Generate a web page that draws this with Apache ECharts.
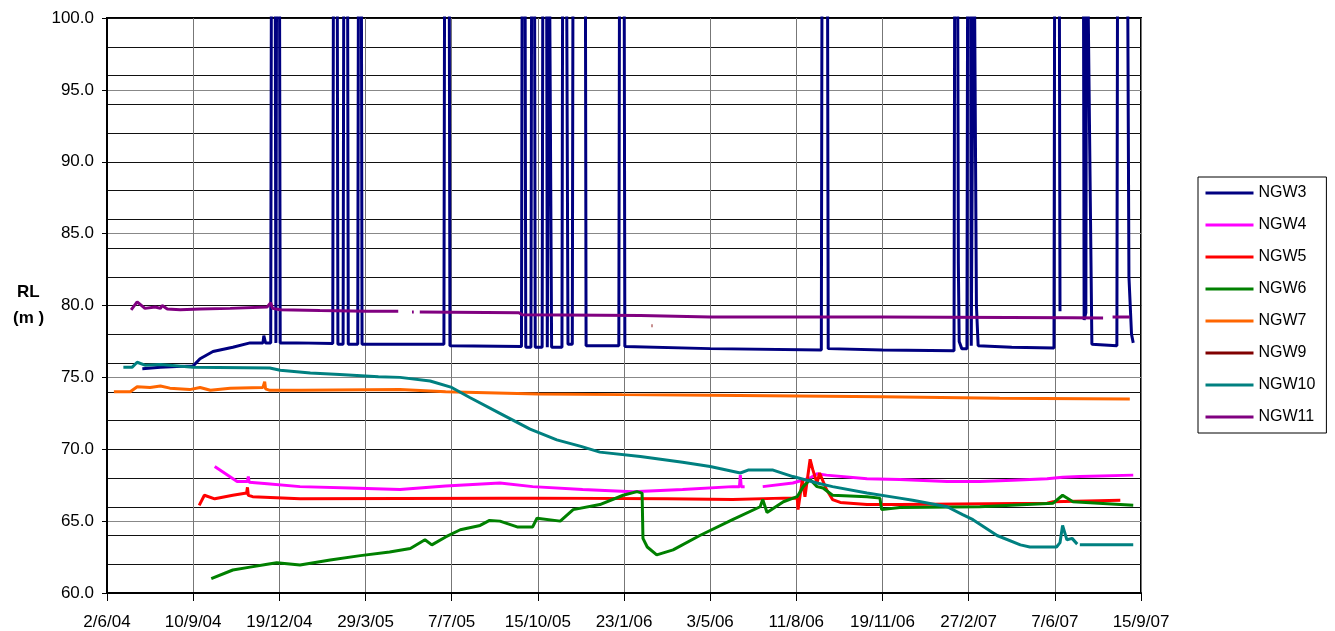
<!DOCTYPE html>
<html>
<head>
<meta charset="utf-8">
<script src="https://cdn.jsdelivr.net/npm/echarts@6/dist/echarts.min.js"></script>
<style>
  html, body { margin: 0; padding: 0; background: #fff; }
  #chart { width: 1335px; height: 631px; }
</style>
</head>
<body>
<div id="chart"></div>
<script>
// x values are days since 2/6/04, '-' marks a gap in the record
const startDate = Date.UTC(2004, 5, 2)
const seriesNames = ['NGW3', 'NGW4', 'NGW5', 'NGW6', 'NGW7', 'NGW9', 'NGW10', 'NGW11']
const seriesColors = ['#000080', '#FF00FF', '#FF0000', '#008000', '#FF6600', '#800000', '#008080', '#800080']

const ngw3 = [
  [41, 75.6], [62, 75.7], [100, 75.8], [108, 76.3], [123, 76.8], [146, 77.1], [166, 77.4], [181, 77.4],
  [182, 77.9], [184, 77.4], [190, 77.4], [191, 110], [195, 110], [196, 77.4], [197, 110], [200, 110],
  [201, 77.4], [220, 77.4], [262, 77.35], [263, 110], [267, 110], [268, 77.3], [274, 77.3], [275, 110],
  [279, 110], [280, 77.3], [291, 77.3], [292, 110], [295, 110], [296, 77.3], [340, 77.3], [391, 77.3],
  [392, 110], [397, 110], [398, 77.2], [481, 77.15], [482, 110], [485, 110], [486, 77.1], [492, 77.1],
  [493, 110], [496, 110], [497, 77.1], [505, 77.1], [506, 110], [510, 110], [511, 77.1], [512, 77.1],
  [513, 110], [515, 110], [516, 77.1], [528, 77.1], [529, 110], [533, 110], [535, 77.3], [540, 77.3],
  [541, 110], [555, 110], [556, 77.2], [594, 77.2], [595, 110], [600, 110], [601, 77.15], [700, 77.0],
  [829, 76.9], [830, 110], [836, 110], [837, 77.0], [900, 76.9], [983, 76.85], [984, 110], [987, 110],
  [988, 83], [989, 77.5], [992, 77.0], [998, 77.0], [999, 110], [1002, 110], [1003, 77.2], [1005, 77.3],
  [1006, 110], [1008, 110], [1009, 80.0], [1011, 77.2], [1050, 77.1], [1099, 77.05], [1100, 110],
  [1105, 110], [1106, 79.6], [1107, '-'], [1129, 110], [1133, 110], [1134, 79.0], [1136, 79.5],
  [1137, 110], [1139, 110], [1143, 77.3], [1172, 77.2], [1173, 110], [1184, 110], [1186, 82],
  [1189, 78], [1191, 77.4]
]

const ngw4 = [
  [125, 68.8], [151, 67.75], [163, 67.75], [164, 68.1], [165, 67.7], [186, 67.6], [224, 67.4],
  [282, 67.3], [340, 67.2], [393, 67.45], [456, 67.65], [494, 67.4], [552, 67.2], [610, 67.05],
  [668, 67.2], [726, 67.4], [734, 67.4], [735, 68.2], [736, 67.4], [740, 67.4], [741, '-'],
  [761, 67.4], [796, 67.65], [816, 68.0], [824, 68.3], [835, 68.2], [882, 67.95], [920, 67.9],
  [975, 67.75], [1013, 67.75], [1051, 67.85], [1091, 67.95], [1109, 68.05], [1129, 68.1], [1191, 68.2]
]

const ngw5 = [
  [107, 66.1], [113, 66.8], [125, 66.55], [146, 66.8], [162, 66.95], [163, 67.35], [164, 66.8],
  [169, 66.7], [224, 66.55], [456, 66.6], [494, 66.6], [650, 66.55], [726, 66.5], [785, 66.6],
  [801, 66.6], [802, 65.8], [807, 67.9], [810, 66.7], [816, 69.3], [819, 68.6], [824, 67.65],
  [827, 68.35], [835, 67.2], [842, 66.5], [851, 66.3], [882, 66.15], [920, 66.15], [1091, 66.25],
  [1098, 66.35], [1176, 66.45]
]

const ngw6 = [
  [121, 61.0], [146, 61.6], [166, 61.8], [186, 62.0], [197, 62.1], [224, 61.95], [259, 62.3],
  [294, 62.6], [328, 62.85], [352, 63.1], [369, 63.7], [377, 63.35], [393, 63.9], [410, 64.4],
  [433, 64.7], [444, 65.05], [456, 65.0], [476, 64.6], [494, 64.6], [499, 65.2], [526, 65.0],
  [541, 65.8], [572, 66.15], [599, 66.8], [615, 67.05], [621, 66.95], [622, 63.8], [627, 63.2],
  [638, 62.65], [657, 63.0], [688, 64.0], [726, 65.1], [758, 66.0], [761, 66.5], [766, 65.6],
  [785, 66.35], [801, 66.7], [808, 67.4], [816, 67.9], [824, 67.4], [831, 67.3], [842, 66.8],
  [882, 66.7], [897, 66.6], [899, 65.8], [920, 65.95], [1013, 66.0], [1098, 66.25], [1109, 66.8],
  [1121, 66.35], [1191, 66.1]
]

const ngw7 = [
  [8, 74.0], [27, 74.0], [35, 74.35], [50, 74.3], [62, 74.4], [73, 74.25], [96, 74.15], [108, 74.3],
  [120, 74.1], [143, 74.25], [181, 74.3], [183, 74.7], [184, 74.2], [189, 74.1], [224, 74.1],
  [340, 74.15], [393, 74.0], [500, 73.85], [598, 73.8], [700, 73.75], [800, 73.7], [900, 73.65],
  [1036, 73.55], [1187, 73.5]
]

const ngw9 = [[632, 78.6], [633, 78.6]]

const ngw10 = [
  [19, 75.7], [29, 75.7], [35, 76.05], [44, 75.85], [62, 75.9], [100, 75.7], [189, 75.65], [201, 75.5],
  [236, 75.3], [270, 75.2], [315, 75.05], [340, 75.0], [375, 74.75], [400, 74.3], [421, 73.6],
  [456, 72.5], [491, 71.4], [522, 70.65], [550, 70.2], [572, 69.8], [619, 69.5], [668, 69.1],
  [700, 68.8], [735, 68.35], [744, 68.55], [773, 68.55], [796, 68.1], [824, 67.65], [842, 67.4],
  [882, 66.95], [920, 66.6], [935, 66.45], [975, 66.0], [993, 65.45], [1005, 65.1], [1033, 64.0],
  [1060, 63.35], [1071, 63.2], [1102, 63.2], [1106, 63.5], [1109, 64.7], [1114, 63.7], [1120, 63.8],
  [1126, 63.4], [1127, '-'], [1129, 63.35], [1191, 63.35]
]

const ngw11 = [
  [28, 79.7], [35, 80.25], [44, 79.8], [56, 79.9], [62, 79.8], [64, 80.0], [70, 79.75], [85, 79.7],
  [108, 79.75], [143, 79.8], [186, 79.9], [190, 80.2], [192, 79.8], [201, 79.7], [247, 79.65],
  [302, 79.6], [338, 79.6], [339, '-'], [354, 79.55], [356, 79.55], [357, '-'], [363, 79.55],
  [478, 79.5], [482, 79.35], [619, 79.3], [700, 79.2], [900, 79.2], [1120, 79.15], [1156, 79.13],
  [1157, '-'], [1167, 79.2], [1187, 79.2]
]

const seriesData = [ngw3, ngw4, ngw5, ngw6, ngw7, ngw9, ngw10, ngw11]

const font = 'Arial, "Liberation Sans", sans-serif'

function dateLabel(v) {
  const d = new Date(startDate + v * 86400000)
  return d.getUTCDate() + '/' + (d.getUTCMonth() + 1) + '/' + String(d.getUTCFullYear()).slice(2)
}

const chart = echarts.init(document.getElementById('chart'))
chart.setOption({
  animation: false,
  backgroundColor: '#fff',
  textStyle: { fontFamily: font },
  grid: { left: 107, right: 194, top: 18, bottom: 38, show: true, borderColor: '#000', borderWidth: 2 },
  legend: {
    orient: 'vertical',
    left: 1198,
    top: 177,
    itemWidth: 48,
    itemHeight: 16,
    itemGap: 16,
    padding: [8, 11, 8, 6],
    borderColor: '#000',
    borderWidth: 1,
    itemStyle: { opacity: 0 },
    lineStyle: { width: 3 },
    textStyle: { fontSize: 16, color: '#000', fontFamily: font },
    data: seriesNames,
  },
  graphic: [
    { type: 'text', left: 17, top: 284, style: { text: 'RL', font: 'bold 17px ' + font, fill: '#000' } },
    { type: 'text', left: 13, top: 310, style: { text: '(m )', font: 'bold 17px ' + font, fill: '#000' } },
  ],
  xAxis: {
    type: 'value',
    min: 0,
    max: 1200,
    interval: 100,
    axisLine: { lineStyle: { color: '#000', width: 2 } },
    axisTick: { inside: false, length: 8, lineStyle: { color: '#000' } },
    axisLabel: { formatter: dateLabel, fontSize: 17, color: '#000', margin: 21, fontFamily: font },
    splitLine: { show: true, lineStyle: { color: '#777', width: 1 } },
  },
  yAxis: [
    {
      type: 'value',
      min: 60,
      max: 100,
      interval: 5,
      axisLine: { show: true, lineStyle: { color: '#000', width: 2 } },
      axisTick: { show: true, length: 5, lineStyle: { color: '#000' } },
      axisLabel: { formatter: (v) => v.toFixed(1), fontSize: 17, color: '#000', margin: 13, fontFamily: font },
      splitLine: { show: true, lineStyle: { color: '#888', width: 1 } },
    },
    {
      type: 'value',
      min: 60,
      max: 100,
      interval: 2,
      axisLine: { show: false },
      axisTick: { show: false },
      axisLabel: { show: false },
      splitLine: { show: true, lineStyle: { color: '#111', width: 1 } },
    },
  ],
  series: seriesNames.map((name, i) => ({
    name,
    type: 'line',
    data: seriesData[i],
    symbol: 'none',
    connectNulls: false,
    clip: true,
    color: seriesColors[i],
    lineStyle: { color: seriesColors[i], width: 3 },
  })),
})
</script>
</body>
</html>
